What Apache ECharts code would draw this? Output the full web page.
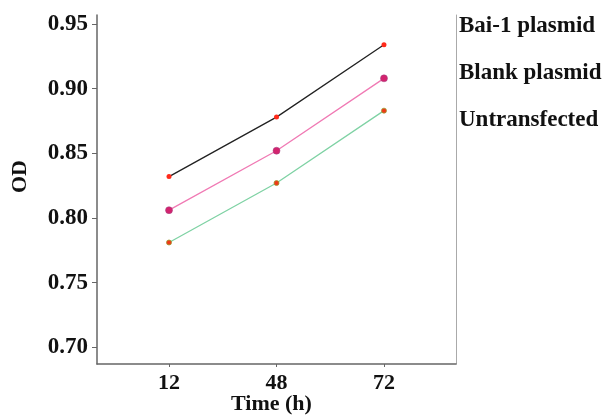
<!DOCTYPE html>
<html><head><meta charset="utf-8">
<script src="https://cdn.jsdelivr.net/npm/echarts@6/dist/echarts.min.js"></script>
<style>html,body{margin:0;padding:0;background:#fff}#c{width:610px;height:416px}</style>
</head><body><div id="c"></div>
<script>
const timeLabels = ['12', '48', '72'];
const seriesNames = ['Bai-1 plasmid', 'Blank plasmid', 'Untransfected'];
const bai1 = [0.832, 0.878, 0.934];
const blank = [0.806, 0.852, 0.908];
const untransfected = [0.781, 0.827, 0.883];
const yTicks = [0.70, 0.75, 0.80, 0.85, 0.90, 0.95];

const font = '"Liberation Serif", "Times New Roman", serif';
const toPts = arr => arr.map((v, i) => [i, v]);
const chart = echarts.init(document.getElementById('c'), null, {renderer: 'canvas'});
chart.setOption({
  animation: false,
  backgroundColor: '#fff',
  grid: {left: 97, right: 154, top: 15, bottom: 52, containLabel: false, outerBoundsMode: 'none'},
  legend: {
    orient: 'vertical', left: 449, top: 10, itemGap: 24,
    itemWidth: 0, itemHeight: 0, icon: 'none',
    data: seriesNames,
    textStyle: {fontFamily: font, fontWeight: 'bold', fontSize: 23, color: '#111'}
  },
  xAxis: {
    type: 'value', min: -0.67, max: 2.67,
    name: 'Time (h)', nameLocation: 'middle', nameGap: 29, nameMoveOverlap: false,
    nameTextStyle: {fontFamily: font, fontWeight: 'bold', fontSize: 22, color: '#111', padding: [0, 10, 0, 0]},
    axisLine: {onZero: false, lineStyle: {color: '#666', width: 1.5}},
    axisTick: {customValues: [0, 1, 2], length: 3, lineStyle: {color: '#666'}},
    axisLabel: {customValues: [0, 1, 2], formatter: v => timeLabels[Math.round(v)],
      fontFamily: font, fontWeight: 'bold', fontSize: 22, color: '#111', margin: 8},
    splitLine: {show: false}
  },
  yAxis: [{
    type: 'value', min: 0.687, max: 0.957,
    name: 'OD', nameLocation: 'middle', nameGap: 66, nameRotate: 90, nameMoveOverlap: false,
    nameTextStyle: {fontFamily: font, fontWeight: 'bold', fontSize: 22, color: '#111', padding: [0, 0, 0, 26]},
    axisLine: {show: true, onZero: false, lineStyle: {color: '#666', width: 1.5}},
    axisTick: {show: true, customValues: yTicks, length: 5, lineStyle: {color: '#666'}},
    axisLabel: {customValues: yTicks, formatter: v => v.toFixed(2),
      fontFamily: font, fontWeight: 'bold', fontSize: 23, color: '#111', margin: 9},
    splitLine: {show: false}
  }, {
    type: 'value', min: 0.687, max: 0.957, position: 'right',
    axisLine: {show: true, onZero: false, lineStyle: {color: '#aaa', width: 1}},
    axisTick: {show: false}, axisLabel: {show: false}, splitLine: {show: false}
  }],
  series: [
    {name: seriesNames[0], type: 'line', data: toPts(bai1),
      lineStyle: {color: '#222', width: 1.3}, symbol: 'circle', symbolSize: 5,
      itemStyle: {color: '#ff2a1a', borderWidth: 0}},
    {name: seriesNames[1], type: 'line', data: toPts(blank),
      lineStyle: {color: '#f07ab4', width: 1.3}, symbol: 'circle', symbolSize: 7,
      itemStyle: {color: '#d3236e', borderColor: '#a04080', borderWidth: 0.5}},
    {name: seriesNames[2], type: 'line', data: toPts(untransfected),
      lineStyle: {color: '#7fd2a4', width: 1.3}, symbol: 'circle', symbolSize: 5,
      itemStyle: {color: '#f03818', borderColor: '#9a9a30', borderWidth: 0.8}}
  ]
});
</script></body></html>
